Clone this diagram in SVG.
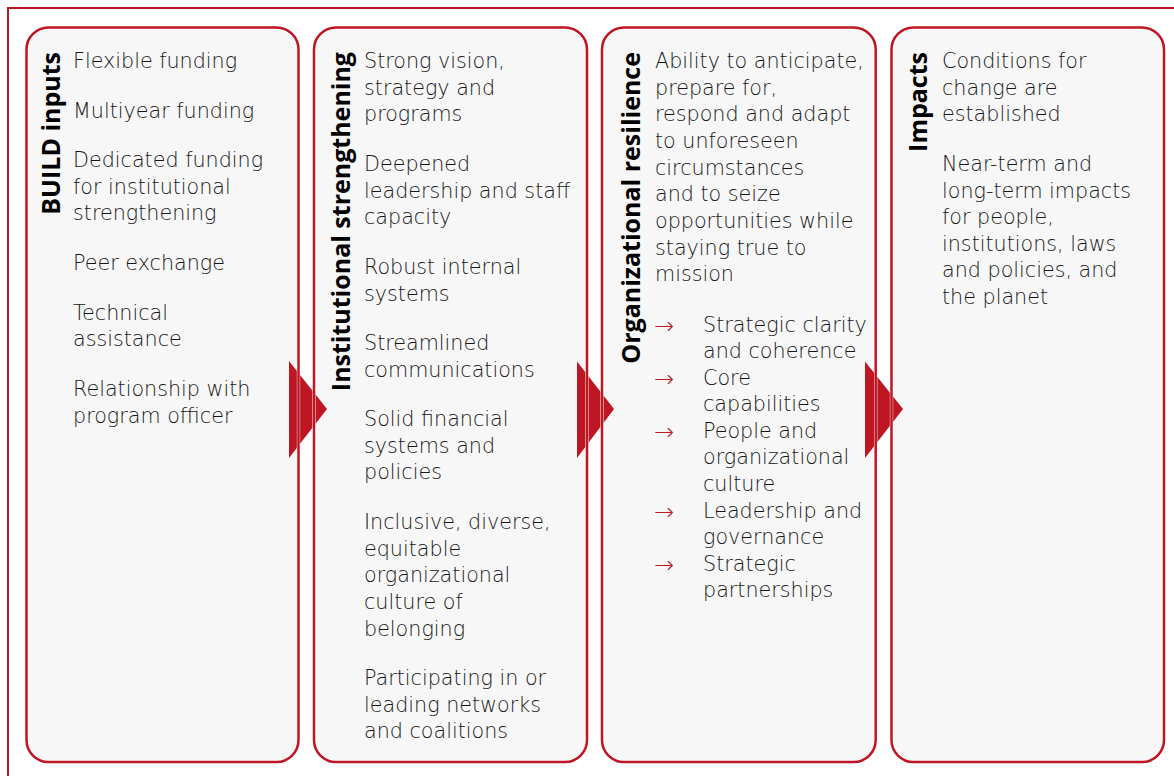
<svg xmlns="http://www.w3.org/2000/svg" width="1174" height="776" viewBox="0 0 1174 776">
<style>
.frame{fill:none;stroke:#BE1622;stroke-width:2}
.boxfill{fill:#F7F7F7}
.halo{fill:none;stroke:#FFFFFF;stroke-width:3.3}
.boxline{fill:none;stroke:#BE1622;stroke-width:2.5}
.chev{fill:#BE1622}
.t{font-family:"DejaVu Sans","Open Sans",sans-serif;font-weight:200;font-size:20.7px;fill:#161616}
.h{font-family:"Open Sans","Liberation Sans",sans-serif;font-weight:700;font-size:25px;fill:#000000}
.ar{font-family:"DejaVu Sans",sans-serif;font-weight:200;font-size:24px;fill:#BE1622}
</style>
<rect width="1174" height="776" fill="#FFFFFF"/>
<rect class="frame" x="8" y="8" width="1200" height="800"/>
<g id="fills">
<rect class="boxfill" x="26.5" y="27.5" width="272" height="734.5" rx="22"/>
<rect class="boxfill" x="314" y="27.5" width="273" height="734.5" rx="22"/>
<rect class="boxfill" x="602" y="27.5" width="273.7" height="734.5" rx="22"/>
<rect class="boxfill" x="891.5" y="27.5" width="272.5" height="734.5" rx="22"/>
</g>
<g id="connectors">
<polygon class="chev" points="289,361 327,409 289,458"/>
<polygon class="chev" points="577,361.5 614,409 577,458"/>
<polygon class="chev" points="865,361.5 903,409 865,458"/>
</g>
<g id="outlines">
<rect class="halo" x="26.5" y="27.5" width="272" height="734.5" rx="22"/>
<rect class="halo" x="314" y="27.5" width="273" height="734.5" rx="22"/>
<rect class="halo" x="602" y="27.5" width="273.7" height="734.5" rx="22"/>
<rect class="halo" x="891.5" y="27.5" width="272.5" height="734.5" rx="22"/>
<rect class="boxline" x="26.5" y="27.5" width="272" height="734.5" rx="22"/>
<rect class="boxline" x="314" y="27.5" width="273" height="734.5" rx="22"/>
<rect class="boxline" x="602" y="27.5" width="273.7" height="734.5" rx="22"/>
<rect class="boxline" x="891.5" y="27.5" width="272.5" height="734.5" rx="22"/>
</g>
<g id="node-build">
<text class="h" transform="translate(60,52) rotate(-90)" text-anchor="end">BUILD inputs</text>
<text class="t" x="73" y="68">Flexible funding</text>
<text class="t" x="73" y="118">Multiyear funding</text>
<text class="t" x="73" y="167">Dedicated funding</text>
<text class="t" x="73" y="193.5">for institutional</text>
<text class="t" x="73" y="220">strengthening</text>
<text class="t" x="73" y="270">Peer exchange</text>
<text class="t" x="73" y="319.5">Technical</text>
<text class="t" x="73" y="346">assistance</text>
<text class="t" x="73" y="396">Relationship with</text>
<text class="t" x="73" y="422.5">program officer</text>
</g>
<g id="node-institutional">
<text class="h" transform="translate(350,52) rotate(-90)" text-anchor="end">Institutional strengthening</text>
<text class="t" x="364" y="68">Strong vision,</text>
<text class="t" x="364" y="95">strategy and</text>
<text class="t" x="364" y="121">programs</text>
<text class="t" x="364" y="171">Deepened</text>
<text class="t" x="364" y="198">leadership and staff</text>
<text class="t" x="364" y="224">capacity</text>
<text class="t" x="364" y="274">Robust internal</text>
<text class="t" x="364" y="301">systems</text>
<text class="t" x="364" y="350">Streamlined</text>
<text class="t" x="364" y="377">communications</text>
<text class="t" x="364" y="426">Solid financial</text>
<text class="t" x="364" y="453">systems and</text>
<text class="t" x="364" y="479">policies</text>
<text class="t" x="364" y="529">Inclusive, diverse,</text>
<text class="t" x="364" y="556">equitable</text>
<text class="t" x="364" y="582">organizational</text>
<text class="t" x="364" y="609">culture of</text>
<text class="t" x="364" y="636">belonging</text>
<text class="t" x="364" y="685">Participating in or</text>
<text class="t" x="364" y="712">leading networks</text>
<text class="t" x="364" y="738">and coalitions</text>
</g>
<g id="node-resilience">
<text class="h" transform="translate(640,52) rotate(-90)" text-anchor="end">Organizational resilience</text>
<text class="t" x="655" y="68">Ability to anticipate,</text>
<text class="t" x="655" y="95">prepare for,</text>
<text class="t" x="655" y="121">respond and adapt</text>
<text class="t" x="655" y="148">to unforeseen</text>
<text class="t" x="655" y="175">circumstances</text>
<text class="t" x="655" y="201">and to seize</text>
<text class="t" x="655" y="228">opportunities while</text>
<text class="t" x="655" y="255">staying true to</text>
<text class="t" x="655" y="281">mission</text>
<text class="ar" x="654" y="334">→</text>
<text class="t" x="703" y="332">Strategic clarity</text>
<text class="t" x="703" y="358">and coherence</text>
<text class="ar" x="654" y="387">→</text>
<text class="t" x="703" y="385">Core</text>
<text class="t" x="703" y="411">capabilities</text>
<text class="ar" x="654" y="440">→</text>
<text class="t" x="703" y="438">People and</text>
<text class="t" x="703" y="464">organizational</text>
<text class="t" x="703" y="491">culture</text>
<text class="ar" x="654" y="520">→</text>
<text class="t" x="703" y="518">Leadership and</text>
<text class="t" x="703" y="544">governance</text>
<text class="ar" x="654" y="573">→</text>
<text class="t" x="703" y="571">Strategic</text>
<text class="t" x="703" y="597">partnerships</text>
</g>
<g id="node-impacts">
<text class="h" transform="translate(927,52) rotate(-90)" text-anchor="end">Impacts</text>
<text class="t" x="942" y="68">Conditions for</text>
<text class="t" x="942" y="95">change are</text>
<text class="t" x="942" y="121">established</text>
<text class="t" x="942" y="171">Near-term and</text>
<text class="t" x="942" y="198">long-term impacts</text>
<text class="t" x="942" y="224">for people,</text>
<text class="t" x="942" y="251">institutions, laws</text>
<text class="t" x="942" y="277">and policies, and</text>
<text class="t" x="942" y="304">the planet</text>
</g>
</svg>
